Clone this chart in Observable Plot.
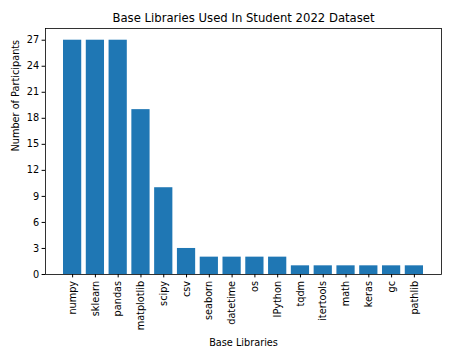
<!DOCTYPE html>
<html>
<head>
<meta charset="utf-8">
<script src="https://cdn.jsdelivr.net/npm/d3@7"></script>
<script src="https://cdn.jsdelivr.net/npm/@observablehq/plot@0.6"></script>
<style>
  html, body { margin: 0; padding: 0; background: white; }
</style>
</head>
<body>
<div id="chart"></div>
<script>
const libraries = ["numpy", "sklearn", "pandas", "matplotlib", "scipy", "csv", "seaborn", "datetime", "os", "IPython", "tqdm", "itertools", "math", "keras", "gc", "pathlib"];
const participants = [27, 27, 27, 19, 10, 3, 2, 2, 2, 2, 1, 1, 1, 1, 1, 1];
const yTicks = [0, 3, 6, 9, 12, 15, 18, 21, 24, 27];
const titleText = "Base Libraries Used In Student 2022 Dataset";
const xLabel = "Base Libraries";
const yLabel = "Number of Participants";

const data = libraries.map((lib, i) => ({lib, count: participants[i]}));

const chart = Plot.plot({
  width: 452,
  height: 360,
  marginLeft: 45,
  marginRight: 11,
  marginTop: 28,
  marginBottom: 86,
  style: {fontFamily: "DejaVu Sans", fontSize: "9.72px", background: "white", color: "black"},
  x: {domain: libraries, paddingInner: 0.2, paddingOuter: 0.79, round: false, label: null},
  y: {domain: [0, 28.35], label: null},
  marks: [
    Plot.barY(data, {x: "lib", y: "count", fill: "#1f77b4"}),
    Plot.frame({stroke: "black", strokeWidth: 0.8}),
    Plot.axisY({ticks: yTicks, tickSize: 3.4, tickPadding: 3, label: null, fontSize: 9.72}),
    Plot.axisX({tickRotate: -90, tickSize: 3.4, tickPadding: 3, label: null, fontSize: 9.72}),
    Plot.text([titleText], {frameAnchor: "top", dy: -10, fontSize: 11.67, lineAnchor: "middle"}),
    Plot.text([xLabel], {frameAnchor: "bottom", dy: 68, fontSize: 9.72, lineAnchor: "middle"}),
    Plot.text([yLabel], {frameAnchor: "left", dx: -30, rotate: -90, fontSize: 9.72, lineAnchor: "middle"})
  ]
});
document.getElementById("chart").appendChild(chart);
</script>
</body>
</html>
